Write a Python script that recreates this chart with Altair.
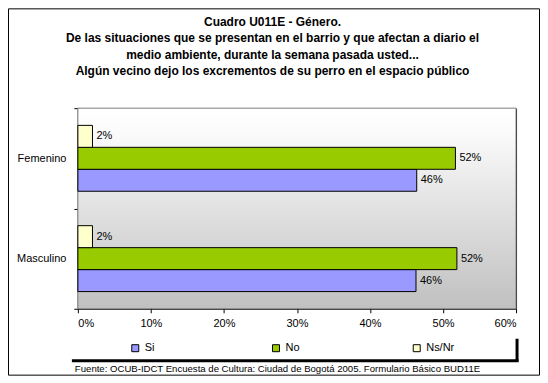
import altair as alt
import pandas as pd

generos = ["Femenino", "Femenino", "Femenino", "Masculino", "Masculino", "Masculino"]
series = ["Si", "No", "Ns/Nr", "Si", "No", "Ns/Nr"]
valores = [0.464, 0.517, 0.020, 0.463, 0.519, 0.020]

series_orden = ["Si", "No", "Ns/Nr"]
colores = ["#9999ff", "#99cc00", "#ffffcc"]
ticks_x = [0, 0.1, 0.2, 0.3, 0.4, 0.5, 0.6]

titulo = [
    "Cuadro U011E - Género.",
    "De las situaciones que se presentan en el barrio y que afectan a diario el",
    "medio ambiente, durante la semana pasada usted...",
    "Algún vecino dejo los excrementos de su perro en el espacio público",
]
fuente = "Fuente: OCUB-IDCT Encuesta de Cultura: Ciudad de Bogotá 2005. Formulario Básico BUD11E"

W, H = 439, 201
FONT = "Liberation Sans"

df = pd.DataFrame({"genero": generos, "serie": series, "valor": valores})

base = alt.Chart(df)

y_enc = alt.Y(
    "genero:N",
    sort=["Femenino", "Masculino"],
    title=None,
    scale=alt.Scale(paddingInner=0, paddingOuter=0),
    axis=alt.Axis(
        tickBand="extent",
        domainColor="black",
        tickColor="black",
        tickSize=4,
        labelPadding=8,
        labelFont=FONT,
        labelFontSize=11,
        labelColor="black",
        grid=False,
    ),
)
yoff_enc = alt.YOffset(
    "serie:N",
    sort=["Ns/Nr", "No", "Si"],
    scale=alt.Scale(paddingInner=0, paddingOuter=0.784),
)
x_scale = alt.Scale(domain=[0, 0.6], nice=False)

fondo = alt.Chart(pd.DataFrame({"a": [0]})).mark_rect(
    color=alt.LinearGradient(
        gradient="linear",
        stops=[
            alt.GradientStop(offset=0, color="#ffffff"),
            alt.GradientStop(offset=0.1, color="#fcfcfc"),
            alt.GradientStop(offset=1, color="#c0c0c0"),
        ],
        x1=0, x2=0, y1=0, y2=1,
    ),
    stroke="#808080",
    strokeWidth=1,
).encode(
    x=alt.value(0), x2=alt.value(W), y=alt.value(0), y2=alt.value(H)
)

barras = base.mark_bar(stroke="black", strokeWidth=1).encode(
    x=alt.X(
        "valor:Q",
        scale=x_scale,
        title=None,
        axis=alt.Axis(
            values=ticks_x,
            format=".0%",
            grid=True,
            gridColor="black",
            gridOpacity=1,
            domainColor="black",
            tickColor="black",
            tickSize=4,
            labelPadding=5,
            labelFont=FONT,
            labelFontSize=11,
            labelColor="black",
        ),
    ),
    y=y_enc,
    yOffset=yoff_enc,
    color=alt.Color(
        "serie:N",
        scale=alt.Scale(domain=series_orden, range=colores),
        legend=alt.Legend(
            title=None,
            orient="none",
            legendX=52,
            legendY=235,
            direction="horizontal",
            symbolType="square",
            symbolSize=49,
            symbolStrokeColor="black",
            symbolStrokeWidth=1,
            symbolOpacity=1,
            labelFont=FONT,
            labelFontSize=11,
            labelColor="black",
            labelOffset=4,
            gridAlign="all",
            columnPadding=97,
            padding=0,
        ),
    ),
)

etiquetas = base.mark_text(
    align="left", baseline="middle", dx=4, font=FONT, fontSize=11, color="black"
).encode(
    x=alt.X("valor:Q", scale=x_scale),
    y=alt.Y("genero:N", sort=["Femenino", "Masculino"]),
    yOffset=yoff_enc,
    text=alt.Text("valor:Q", format=".0%"),
)

deco = alt.Chart(pd.DataFrame({"a": [0]}))
sombra_v = deco.mark_rule(color="black", strokeWidth=3).encode(
    x=alt.value(440), y=alt.value(231), y2=alt.value(254)
)
sombra_h = deco.mark_rule(color="black", strokeWidth=3).encode(
    x=alt.value(-6), x2=alt.value(441.5), y=alt.value(253)
)
marco = deco.mark_rect(fillOpacity=0, stroke="black", strokeWidth=1).encode(
    x=alt.value(-69.5), x2=alt.value(462.5), y=alt.value(-99.5), y2=alt.value(267.5)
)
texto_fuente = deco.mark_text(
    align="left", baseline="middle", font=FONT, fontSize=9.6, color="black"
).encode(x=alt.value(-3), y=alt.value(261), text=alt.value(fuente))

chart = alt.layer(
    fondo, barras, etiquetas, sombra_v, sombra_h, marco, texto_fuente
).properties(
    width=W,
    height=H,
    title=alt.TitleParams(
        text=titulo,
        font=FONT,
        fontSize=12,
        fontWeight="bold",
        color="black",
        lineHeight=16.5,
        anchor="middle",
        dx=-24.5,
        offset=-70,
    ),
    padding={"left": 70, "top": 100, "right": 24, "bottom": 67},
    autosize=alt.AutoSizeParams(type="none"),
).configure_view(stroke=None).configure(background="white")

chart.save("out.html", embed_options={"renderer": "svg", "actions": False})
